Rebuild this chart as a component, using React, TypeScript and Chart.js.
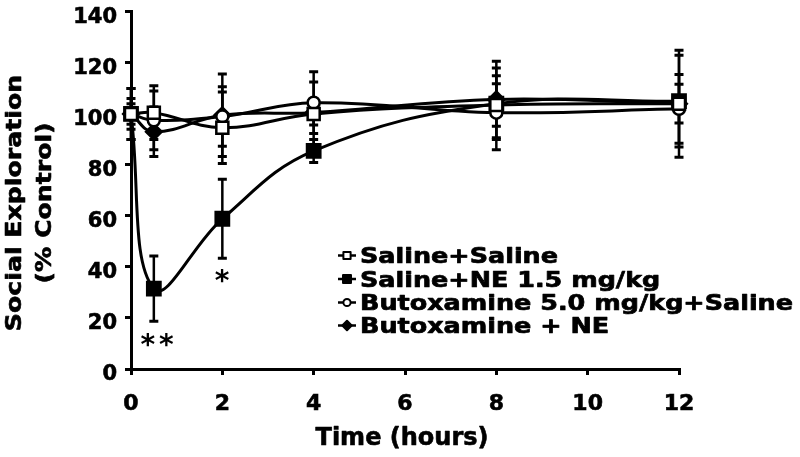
import React, { useEffect, useRef } from 'react';
import { Chart, registerables } from 'chart.js';

Chart.register(...registerables);

// ---- data ----
const hours = [0, 0.5, 2, 4, 8, 12];
const seriesLabels = [
  'Saline+Saline',
  'Saline+NE 1.5 mg/kg',
  'Butoxamine 5.0 mg/kg+Saline',
  'Butoxamine + NE',
];
const salineSaline = [100, 100.5, 94.6, 100, 103.5, 104];
const salineSalineErr = [6, 10.5, 14, 12.5, 8.3, 7.6];
const salineNE = [100, 31.5, 58.9, 85.5, 104, 105];
const salineNEErr = [10, 12.8, 15.5, 4.5, 14, 18];
const butoxSaline = [100, 97.5, 99, 104.4, 100.5, 102];
const butoxSalineErr = [4, 11.5, 11.7, 12.1, 14.5, 13.5];
const butoxNE = [100, 93, 99.5, 100.5, 105.7, 104];
const butoxNEErr = [10, 9.7, 16.2, 4.8, 15, 21];
const xTickValues = [0, 2, 4, 6, 8, 10, 12];
const yTickValues = [0, 20, 40, 60, 80, 100, 120, 140];
const sigMarks = ['**', '*'];
const sigX = [0.57, 2.04];
const sigY = [11.8, 36.8];
const xTitle = 'Time (hours)';
const yTitleLines = ['Social Exploration', '(% Control)'];

const FONT = '"DejaVu Sans", Verdana, sans-serif';

const errorsBySeries = [salineSalineErr, salineNEErr, butoxSalineErr, butoxNEErr];

const errorBarPlugin = {
  id: 'errorBars',
  beforeDatasetsDraw(chart: any) {
    const ctx = chart.ctx;
    const ys = chart.scales.y;
    const xs = chart.scales.x;
    ctx.save();
    ctx.strokeStyle = '#000';
    chart.data.datasets.forEach((ds: any, di: number) => {
      const errs = errorsBySeries[di];
      ds.data.forEach((pt: any, i: number) => {
        const px = xs.getPixelForValue(pt.x);
        const top = ys.getPixelForValue(pt.y + errs[i]);
        const bot = ys.getPixelForValue(pt.y - errs[i]);
        ctx.lineWidth = 2.5;
        ctx.beginPath();
        ctx.moveTo(px, top);
        ctx.lineTo(px, bot);
        ctx.stroke();
        ctx.lineWidth = 3;
        ctx.beginPath();
        ctx.moveTo(px - 4.5, top);
        ctx.lineTo(px + 4.5, top);
        ctx.moveTo(px - 4.5, bot);
        ctx.lineTo(px + 4.5, bot);
        ctx.stroke();
      });
    });
    ctx.restore();
  },
};

function boldText(ctx: CanvasRenderingContext2D, t: string, x: number, y: number, w: number) {
  ctx.fillText(t, x, y);
  ctx.lineWidth = w;
  ctx.strokeStyle = '#000';
  ctx.lineJoin = 'round';
  ctx.strokeText(t, x, y);
}

const decorPlugin = {
  id: 'decor',
  afterDraw(chart: any) {
    const ctx = chart.ctx;
    const xs = chart.scales.x;
    const ys = chart.scales.y;
    ctx.save();
    ctx.fillStyle = '#000';

    // significance marks
    ctx.font = `bold 28px ${FONT}`;
    ctx.textAlign = 'center';
    ctx.textBaseline = 'alphabetic';
    (ctx as any).letterSpacing = '4px';
    sigMarks.forEach((m, i) => {
      const px = xs.getPixelForValue(sigX[i]);
      const py = ys.getPixelForValue(sigY[i]);
      ctx.fillText(m, px + (m.length > 1 ? 2 : 0), py + 15);
    });
    (ctx as any).letterSpacing = '0px';

    // x axis title
    ctx.font = `bold 24px ${FONT}`;
    ctx.textBaseline = 'middle';
    ctx.textAlign = 'center';
    boldText(ctx, xTitle, (chart.chartArea.left + chart.chartArea.right) / 2 - 3, 439, 0.6);

    // y axis title (two rotated lines)
    ctx.font = `bold 21px ${FONT}`;
    const yc = 203;
    [16, 46].forEach((xPos, i) => {
      ctx.save();
      ctx.translate(xPos, yc);
      ctx.rotate(-Math.PI / 2);
      ctx.scale(1.2, 1);
      boldText(ctx, yTitleLines[i], 0, 0, 0.6);
      ctx.restore();
    });

    // legend
    ctx.font = `bold 21px ${FONT}`;
    const longest = Math.max(...seriesLabels.map((l) => ctx.measureText(l).width));
    const sx = 433 / longest;
    const baselines = [263, 286.5, 310, 333];
    chart.data.datasets.forEach((ds: any, i: number) => {
      const cy = baselines[i] - 7.5;
      ctx.strokeStyle = '#000';
      ctx.lineWidth = 2.5;
      ctx.beginPath();
      ctx.moveTo(338, cy);
      ctx.lineTo(356, cy);
      ctx.stroke();
      const style = ds.pointStyle;
      const r = ds.pointRadius * 0.6;
      ctx.fillStyle = ds.pointBackgroundColor;
      ctx.lineWidth = 2;
      ctx.beginPath();
      if (style === 'rect') {
        const s = r * Math.SQRT1_2;
        ctx.rect(347 - s, cy - s, 2 * s, 2 * s);
      } else if (style === 'rectRot') {
        ctx.moveTo(347, cy - r);
        ctx.lineTo(347 + r, cy);
        ctx.lineTo(347, cy + r);
        ctx.lineTo(347 - r, cy);
        ctx.closePath();
      } else {
        ctx.arc(347, cy, r, 0, Math.PI * 2);
      }
      ctx.fill();
      ctx.stroke();
      ctx.fillStyle = '#000';
      ctx.save();
      ctx.translate(360, baselines[i]);
      ctx.scale(sx, 1);
      ctx.textAlign = 'left';
      ctx.textBaseline = 'alphabetic';
      boldText(ctx, seriesLabels[i], 0, 0, 0.7);
      ctx.restore();
    });
    ctx.restore();
  },
};

function toPoints(vals: number[]) {
  return vals.map((v, i) => ({ x: hours[i], y: v }));
}

export default function App() {
  const ref = useRef<HTMLCanvasElement | null>(null);
  useEffect(() => {
    if (!ref.current) return;
    const common = {
      borderColor: '#000',
      borderWidth: 3,
      tension: 0.4,
      pointBorderColor: '#000',
      pointBorderWidth: 2.5,
      clip: false as any,
      fill: false,
    };
    const chart = new Chart(ref.current, {
      type: 'line',
      data: {
        datasets: [
          { ...common, label: seriesLabels[0], data: toPoints(salineSaline), pointStyle: 'rect', pointRadius: 8.5, pointBackgroundColor: '#fff' },
          { ...common, label: seriesLabels[1], data: toPoints(salineNE), pointStyle: 'rect', pointRadius: 9.4, pointBackgroundColor: '#000' },
          { ...common, label: seriesLabels[2], data: toPoints(butoxSaline), pointStyle: 'circle', pointRadius: 6, pointBackgroundColor: '#fff' },
          { ...common, label: seriesLabels[3], data: toPoints(butoxNE), pointStyle: 'rectRot', pointRadius: 7.8, pointBackgroundColor: '#000' },
        ] as any,
      },
      options: {
        animation: false,
        responsive: false,
        devicePixelRatio: 1,
        layout: { padding: { left: 0, top: 10, right: 121, bottom: 0 } },
        plugins: { legend: { display: false }, tooltip: { enabled: false }, title: { display: false } },
        scales: {
          x: {
            type: 'linear',
            min: 0,
            max: 12,
            afterBuildTicks: (s: any) => { s.ticks = xTickValues.map((v) => ({ value: v })); },
            afterFit: (s: any) => { s.height = 88; s.paddingLeft = 0; s.paddingRight = 0; },
            grid: { drawOnChartArea: false, drawTicks: true, tickLength: 6, lineWidth: 3, color: '#000' },
            border: { display: true, color: '#000', width: 3 },
            ticks: { color: '#000', textStrokeColor: '#000', textStrokeWidth: 0.6, font: { family: FONT, size: 22, weight: 'bold' }, padding: 16, maxRotation: 0, autoSkip: false },
          },
          y: {
            type: 'linear',
            min: 0,
            max: 140,
            afterBuildTicks: (s: any) => { s.ticks = yTickValues.map((v) => ({ value: v })); },
            afterFit: (s: any) => { s.width = 131; s.paddingTop = 0; s.paddingBottom = 0; },
            grid: { drawOnChartArea: false, drawTicks: true, tickLength: 6, lineWidth: 3, color: '#000' },
            border: { display: true, color: '#000', width: 3 },
            ticks: { color: '#000', textStrokeColor: '#000', textStrokeWidth: 0.6, font: { family: FONT, size: 21, weight: 'bold' }, padding: 8, labelOffset: 6, autoSkip: false },
          },
        },
      } as any,
      plugins: [errorBarPlugin, decorPlugin],
    });
    return () => chart.destroy();
  }, []);
  return (
    <div style={{ position: 'absolute', left: 0, top: 0, width: 800, height: 457, background: '#fff' }}>
      <canvas ref={ref} width={800} height={457} />
    </div>
  );
}
